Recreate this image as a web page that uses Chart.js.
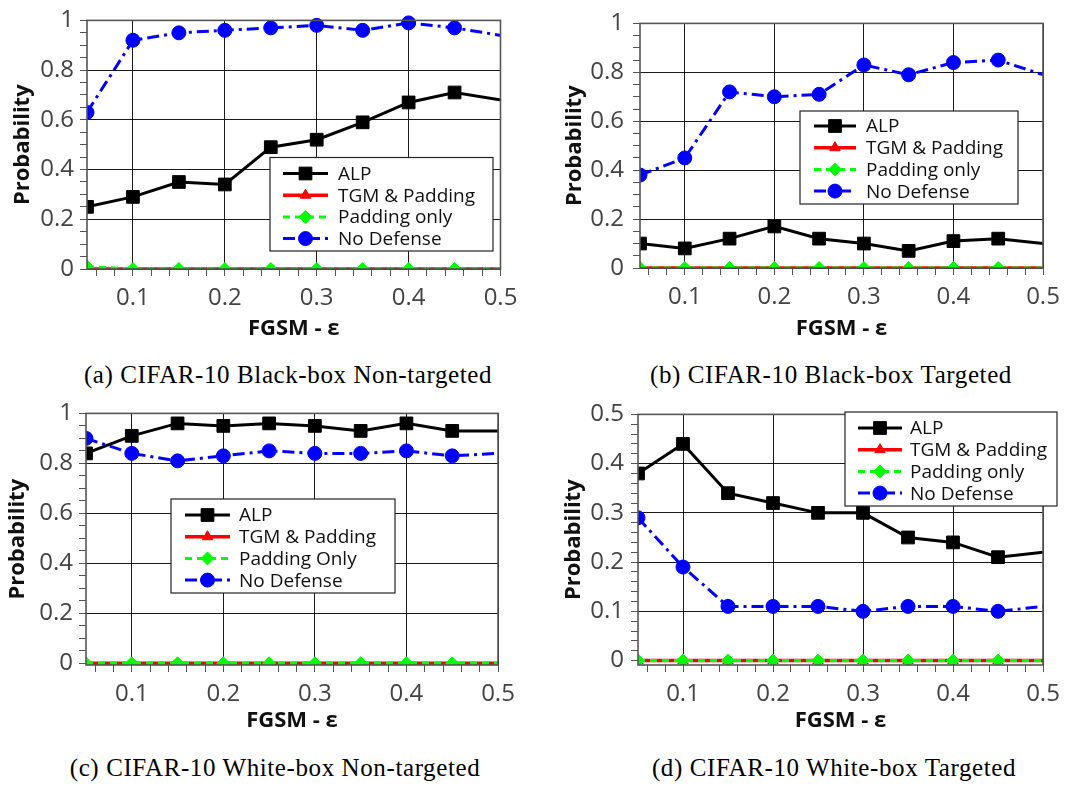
<!DOCTYPE html>
<html><head><meta charset="utf-8">
<script src="https://cdn.jsdelivr.net/npm/chart.js@4/dist/chart.umd.min.js"></script>
<style>
html,body{margin:0;padding:0;background:#fff}
body{width:1075px;height:787px;position:relative;overflow:hidden}
canvas{position:absolute}
.cap{position:absolute;width:520px;text-align:center;font-family:"Liberation Serif",serif;font-size:25px;letter-spacing:0.6px;line-height:30px;color:#000;white-space:nowrap}
</style></head><body>
<canvas id="ca" width="537" height="345" style="left:0;top:0"></canvas>
<canvas id="cb" width="538" height="345" style="left:537px;top:0"></canvas>
<canvas id="cc" width="537" height="345" style="left:0;top:393px"></canvas>
<canvas id="cd" width="538" height="345" style="left:537px;top:393px"></canvas>
<div class="cap" style="left:28px;top:360px">(a) CIFAR-10 Black-box Non-targeted</div>
<div class="cap" style="left:571px;top:360px">(b) CIFAR-10 Black-box Targeted</div>
<div class="cap" style="left:15px;top:753px">(c) CIFAR-10 White-box Non-targeted</div>
<div class="cap" style="left:574px;top:753px">(d) CIFAR-10 White-box Targeted</div>
<script>
// ---------- data ----------
const epsilon = [0.05, 0.10, 0.15, 0.20, 0.25, 0.30, 0.35, 0.40, 0.45, 0.55];
const namesAB = ['ALP', 'TGM & Padding', 'Padding only', 'No Defense'];
const namesC  = ['ALP', 'TGM & Padding', 'Padding Only', 'No Defense'];

// (a) Black-box Non-targeted
const alpA = [0.25, 0.29, 0.35, 0.34, 0.49, 0.52, 0.59, 0.67, 0.71, 0.65];
const tgmA = [0, 0, 0, 0, 0, 0, 0, 0, 0, 0];
const padA = [0.01, 0, 0, 0, 0, 0, 0, 0, 0, 0];
const ndA  = [0.63, 0.92, 0.95, 0.96, 0.97, 0.98, 0.96, 0.99, 0.97, 0.91];
// (b) Black-box Targeted
const alpB = [0.10, 0.08, 0.12, 0.17, 0.12, 0.10, 0.07, 0.11, 0.12, 0.08];
const tgmB = [0, 0, 0, 0, 0, 0, 0, 0, 0, 0];
const padB = [0, 0, 0, 0, 0, 0, 0, 0, 0, 0];
const ndB  = [0.38, 0.45, 0.72, 0.70, 0.71, 0.83, 0.79, 0.84, 0.85, 0.73];
// (c) White-box Non-targeted
const alpC = [0.84, 0.91, 0.96, 0.95, 0.96, 0.95, 0.93, 0.96, 0.93, 0.93];
const tgmC = [0, 0, 0, 0, 0, 0, 0, 0, 0, 0];
const padC = [0, 0, 0, 0, 0, 0, 0, 0, 0, 0];
const ndC  = [0.90, 0.84, 0.81, 0.83, 0.85, 0.84, 0.84, 0.85, 0.83, 0.85];
// (d) White-box Targeted
const alpD = [0.38, 0.44, 0.34, 0.32, 0.30, 0.30, 0.25, 0.24, 0.21, 0.23];
const tgmD = [0, 0, 0, 0, 0, 0, 0, 0, 0, 0];
const padD = [0, 0, 0, 0, 0, 0, 0, 0, 0, 0];
const ndD  = [0.29, 0.19, 0.11, 0.11, 0.11, 0.10, 0.11, 0.11, 0.10, 0.12];

// ---------- ticks ----------
const xMajorTicks = [0.1, 0.2, 0.3, 0.4, 0.5];
const xTickLabels = ['0.1', '0.2', '0.3', '0.4', '0.5'];
const yMajorTicks1 = [0, 0.2, 0.4, 0.6, 0.8, 1];
const yTickLabels1 = ['0', '0.2', '0.4', '0.6', '0.8', '1'];
const yMajorTicks05 = [0, 0.1, 0.2, 0.3, 0.4, 0.5];
const yTickLabels05 = ['0', '0.1', '0.2', '0.3', '0.4', '0.5'];
const xAxisTitle = 'FGSM - ε';
const yAxisTitle = 'Probability';

function tickValues(from, to, step) {
  const out = [];
  const n = Math.round((to - from) / step);
  for (let k = 0; k <= n; k++) out.push(Math.round((from + k * step) * 10000) / 10000);
  return out;
}
function isMajor(v, majors) { return majors.some(m => Math.abs(m - v) < 1e-6); }
function labelOf(v, majors, labels) {
  const i = majors.findIndex(m => Math.abs(m - v) < 1e-6);
  return i >= 0 ? labels[i] : '';
}

// ---------- plugins ----------
function drawMarker(ctx, style, r, x, y) {
  if (Chart.helpers && Chart.helpers.drawPoint) {
    Chart.helpers.drawPoint(ctx, {pointStyle: style, radius: r, rotation: 0, borderWidth: 1}, x, y);
    return;
  }
  ctx.beginPath();
  if (style === 'rect') { const s = r * Math.SQRT1_2; ctx.rect(x - s, y - s, 2 * s, 2 * s); }
  else if (style === 'triangle') { ctx.moveTo(x, y - r); ctx.lineTo(x + r * 0.866, y + r / 2); ctx.lineTo(x - r * 0.866, y + r / 2); ctx.closePath(); }
  else if (style === 'rectRot') { ctx.moveTo(x - r, y); ctx.lineTo(x, y - r); ctx.lineTo(x + r, y); ctx.lineTo(x, y + r); ctx.closePath(); }
  else { ctx.arc(x, y, r, 0, Math.PI * 2); }
  ctx.fill(); ctx.stroke();
}

const framePlugin = {
  id: 'frame',
  afterDatasetsDraw(chart) {
    const {ctx, chartArea: a} = chart;
    ctx.save();
    ctx.strokeStyle = '#555';
    ctx.lineWidth = 1.6;
    ctx.setLineDash([]);
    ctx.strokeRect(a.left, a.top, a.right - a.left, a.bottom - a.top);
    ctx.restore();
  }
};

const boxLegendPlugin = {
  id: 'boxLegend',
  afterDraw(chart, args, o) {
    if (!o || o.w === undefined) return;
    const ctx = chart.ctx;
    ctx.save();
    ctx.setLineDash([]);
    ctx.fillStyle = '#fff';
    ctx.fillRect(o.x, o.y, o.w, o.h);
    ctx.strokeStyle = '#222';
    ctx.lineWidth = 1.2;
    ctx.strokeRect(o.x, o.y, o.w, o.h);
    ctx.font = '19px "Open Sans"';
    ctx.textBaseline = 'middle';
    ctx.textAlign = 'left';
    chart.data.datasets.forEach((ds, i) => {
      const yy = o.y + o.first + i * o.gap;
      ctx.strokeStyle = ds.borderColor;
      ctx.lineWidth = ds.borderWidth;
      ctx.setLineDash(ds.borderDash || []);
      ctx.beginPath();
      ctx.moveTo(o.x + o.s0, yy);
      ctx.lineTo(o.x + o.s1, yy);
      ctx.stroke();
      ctx.setLineDash([]);
      ctx.fillStyle = ds.pointBackgroundColor;
      ctx.strokeStyle = ds.pointBorderColor;
      ctx.lineWidth = 1;
      drawMarker(ctx, ds.pointStyle, ds.pointRadius, o.x + (o.s0 + o.s1) / 2, yy);
      ctx.fillStyle = '#111';
      ctx.fillText(ds.label, o.x + o.tx, yy + 1);
    });
    ctx.restore();
  }
};

// ---------- chart builder ----------
function makeDatasets(names, alp, tgm, pad, nd) {
  const xy = arr => arr.map((v, i) => ({x: epsilon[i], y: v}));
  const clip = {left: 0, top: 8, right: 0, bottom: 0};
  return [
    {label: names[0], data: xy(alp), order: 1, borderColor: '#000', borderWidth: 3,
     pointStyle: 'rect', pointRadius: 9, pointBackgroundColor: '#000', pointBorderColor: '#000', pointBorderWidth: 1, clip},
    {label: names[1], data: xy(tgm), order: 3, borderColor: '#ff0000', borderWidth: 3.5,
     pointStyle: 'triangle', pointRadius: 6, pointBackgroundColor: '#ff0000', pointBorderColor: '#ff0000', pointBorderWidth: 1, clip},
    {label: names[2], data: xy(pad), order: 2, borderColor: '#00ff00', borderWidth: 3, borderDash: [7, 5],
     pointStyle: 'rectRot', pointRadius: 6.5, pointBackgroundColor: '#00ff00', pointBorderColor: '#00ff00', pointBorderWidth: 1, clip},
    {label: names[3], data: xy(nd), order: 4, borderColor: '#0000ff', borderWidth: 3, borderDash: [12, 5, 3, 5],
     pointStyle: 'circle', pointRadius: 7, pointBackgroundColor: '#0000ff', pointBorderColor: '#0000ff', pointBorderWidth: 1, clip}
  ];
}

function makeChart(id, datasets, L) {
  const xTicksAll = tickValues(0.06, 0.5, 0.02);
  const yTicksAll = tickValues(0, L.yMax, L.yMinor);
  const tickFont = {family: '"Open Sans"', size: 24};
  const titleFont = {family: '"Open Sans"', size: 22, weight: 'bold'};
  return new Chart(document.getElementById(id), {
    type: 'line',
    data: {datasets},
    options: {
      responsive: false, animation: false, devicePixelRatio: 1,
      layout: {padding: {left: 0, top: L.top, right: L.right, bottom: 0}},
      elements: {line: {tension: 0, fill: false}},
      plugins: {legend: {display: false}, tooltip: {enabled: false}, boxLegend: L.legend},
      scales: {
        x: {
          type: 'linear', min: 0.05, max: 0.5,
          afterBuildTicks: s => { s.ticks = xTicksAll.map(v => ({value: v})); },
          afterFit: s => { s.height = L.xh; },
          ticks: {autoSkip: false, maxRotation: 0, padding: 8, color: '#444', font: tickFont,
                  callback: v => labelOf(v, xMajorTicks, xTickLabels)},
          grid: {drawTicks: true, tickLength: 7, lineWidth: 1,
                 color: c => (c.tick && isMajor(c.tick.value, xMajorTicks)) ? '#1a1a1a' : 'rgba(0,0,0,0)',
                 tickColor: '#555'},
          border: {display: false},
          title: {display: true, text: xAxisTitle, color: '#111', font: titleFont, padding: {top: 0, bottom: L.xtPad}}
        },
        y: {
          type: 'linear', min: L.yMin, max: L.yMax,
          afterBuildTicks: s => { s.ticks = yTicksAll.map(v => ({value: v})); },
          afterFit: s => { s.width = L.yw; },
          ticks: {autoSkip: false, padding: L.ytickPad, color: '#444', font: tickFont,
                  callback: v => labelOf(v, L.yMajor, L.yLabels)},
          grid: {drawTicks: true, tickLength: 7, lineWidth: 1,
                 color: c => (c.tick && isMajor(c.tick.value, L.yMajor)) ? '#1a1a1a' : 'rgba(0,0,0,0)',
                 tickColor: '#555'},
          border: {display: false},
          title: {display: true, text: yAxisTitle, color: '#111', font: titleFont, padding: {top: L.ytPad, bottom: 0}}
        }
      }
    },
    plugins: [framePlugin, boxLegendPlugin]
  });
}

makeChart('ca', makeDatasets(namesAB, alpA, tgmA, padA, ndA), {
  top: 15.5, right: 36.5, yw: 87, xh: 76, yMin: 0, yMax: 1, yMinor: 0.05,
  yMajor: yMajorTicks1, yLabels: yTickLabels1, ytickPad: 6, ytPad: 10, xtPad: 3,
  legend: {x: 270, y: 157.5, w: 223, h: 93.5, first: 16, gap: 21.7, s0: 13, s1: 58, tx: 68}
});
makeChart('cb', makeDatasets(namesAB, alpB, tgmB, padB, ndB), {
  top: 15, right: 32, yw: 103, xh: 77, yMin: 0, yMax: 1, yMinor: 0.05,
  yMajor: yMajorTicks1, yLabels: yTickLabels1, ytickPad: 9, ytPad: 25, xtPad: 3,
  legend: {x: 263, y: 111, w: 218, h: 93, first: 15, gap: 21.7, s0: 14, s1: 56, tx: 66}
});
makeChart('cc', makeDatasets(namesC, alpC, tgmC, padC, ndC), {
  top: 18.7, right: 39, yw: 86, xh: 73, yMin: -0.007, yMax: 1, yMinor: 0.05,
  yMajor: yMajorTicks1, yLabels: yTickLabels1, ytickPad: 6, ytPad: 5, xtPad: 4,
  legend: {x: 171, y: 106, w: 224, h: 94, first: 16, gap: 21.7, s0: 14, s1: 59, tx: 68}
});
makeChart('cd', makeDatasets(namesAB, alpD, tgmD, padD, ndD), {
  top: 16.3, right: 32, yw: 101, xh: 73, yMin: -0.009, yMax: 0.5, yMinor: 0.02,
  yMajor: yMajorTicks05, yLabels: yTickLabels05, ytickPad: 7, ytPad: 24, xtPad: 4,
  legend: {x: 308, y: 19, w: 212, h: 94, first: 16, gap: 21.7, s0: 13, s1: 57, tx: 65}
});
</script>
</body></html>
